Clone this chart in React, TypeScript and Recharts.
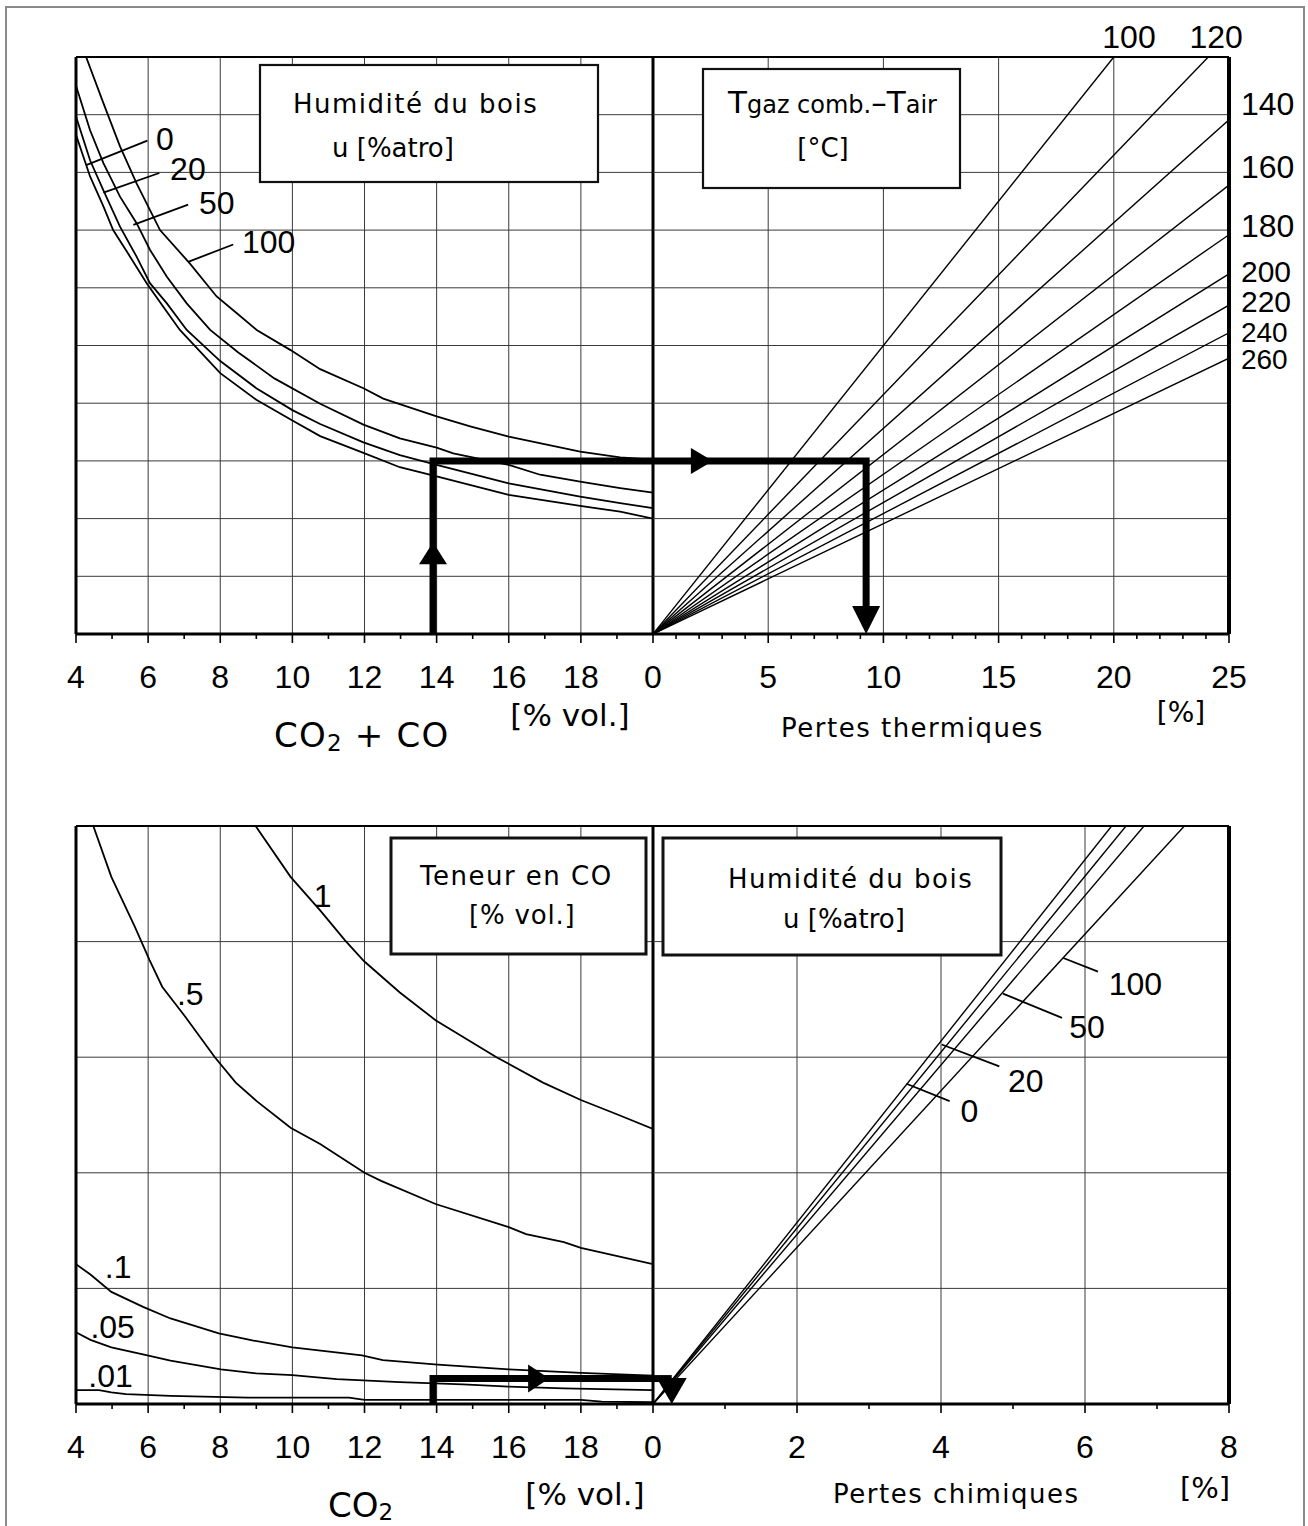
import React from 'react';
import { LineChart, Line, XAxis, YAxis, ReferenceLine, ReferenceDot } from 'recharts';

type P = [number, number];

// ================= TOP PANEL : pertes thermiques =================
// Left half: CO2 + CO [% vol.] -> factor (grid units 0..10), one curve per wood humidity u [%atro]
const humidityLabels = ['0', '20', '50', '100'];
const thermU0: P[] = [
  [4.0, 8.65], [4.39, 7.93], [4.76, 7.41], [5.03, 7.0], [5.5, 6.54], [5.96, 6.08], [6.42, 5.67],
  [6.88, 5.27], [8.0, 4.52], [9.0, 4.06], [10.0, 3.7], [10.77, 3.43], [11.97, 3.14], [12.98, 2.89],
  [14.0, 2.73], [16.0, 2.41], [17.98, 2.22], [19.09, 2.12], [20.0, 2.0],
];
const thermU20: P[] = [
  [4.0, 8.97], [4.39, 8.21], [4.76, 7.69], [5.22, 7.06], [5.68, 6.54], [6.05, 6.08], [6.52, 5.73],
  [7.07, 5.27], [8.0, 4.73], [9.0, 4.26], [10.0, 3.88], [10.77, 3.64], [11.97, 3.32], [12.98, 3.1],
  [14.0, 2.93], [16.0, 2.61], [17.98, 2.38], [19.09, 2.27], [20.0, 2.18],
];
const thermU50: P[] = [
  [4.0, 9.5], [4.39, 8.73], [4.76, 8.16], [5.22, 7.58], [5.68, 7.12], [6.05, 6.66], [6.52, 6.19],
  [7.07, 5.73], [7.72, 5.27], [8.5, 4.88], [9.5, 4.43], [10.77, 3.99], [11.97, 3.63], [12.98, 3.39],
  [14.0, 3.23], [14.46, 3.13], [16.0, 2.93], [16.87, 2.76], [17.98, 2.64], [19.09, 2.53], [20.0, 2.45],
];
const thermU100: P[] = [
  [4.28, 10.0], [4.76, 9.2], [5.22, 8.45], [5.68, 7.81], [6.33, 7.0], [7.16, 6.42], [7.9, 5.85],
  [8.46, 5.56], [9.01, 5.27], [9.95, 4.92], [10.77, 4.59], [11.97, 4.26], [12.52, 4.08], [14.0, 3.77],
  [14.93, 3.6], [16.0, 3.42], [17.98, 3.16], [19.09, 3.06], [20.0, 3.02],
];
const thermCurves = [thermU0, thermU20, thermU50, thermU100];

// Right half: rays per T gaz comb. - T air [°C]; end points (pertes thermiques %, factor)
const tempLabels = ['100', '120', '140', '160', '180', '200', '220', '240', '260'];
const tempRayEnds: P[] = [
  [20.0, 10], [24.1, 10], [25, 8.91], [25, 7.78], [25, 6.92], [25, 6.24], [25, 5.7], [25, 5.22], [25, 4.78],
];

// Reading example (arrow path)
const thermExampleLeft: P[] = [[13.9, 0], [13.9, 3.0], [20, 3.0]];
const thermExampleRight: P[] = [[0, 3.0], [9.25, 3.0], [9.25, 0.45]];

// ================= BOTTOM PANEL : pertes chimiques =================
const coLabels = ['1', '.5', '.1', '.05', '.01'];
const co1: P[] = [
  [8.98, 5.0], [9.95, 4.56], [10.77, 4.27], [11.46, 4.01], [11.99, 3.83], [12.98, 3.56], [13.97, 3.32],
  [15.66, 3.0], [16.95, 2.78], [18.0, 2.63], [19.05, 2.5], [20.0, 2.38],
];
const co05: P[] = [
  [4.48, 5.0], [4.98, 4.56], [5.63, 4.13], [6.04, 3.84], [6.39, 3.61], [7.03, 3.35], [7.85, 3.0],
  [8.43, 2.78], [9.01, 2.62], [9.95, 2.39], [10.77, 2.25], [12.0, 2.0], [12.46, 1.93], [13.97, 1.73],
  [16.0, 1.53], [16.48, 1.47], [17.53, 1.4], [18.0, 1.35], [20.0, 1.21],
];
const co01: P[] = [
  [4.0, 1.21], [4.4, 1.12], [4.98, 0.97], [5.86, 0.84], [6.62, 0.74], [7.96, 0.61], [8.89, 0.55],
  [10.0, 0.49], [11.93, 0.42], [12.51, 0.38], [14.03, 0.34], [16.0, 0.3], [18.0, 0.27], [20.0, 0.245],
];
const co005: P[] = [
  [4.0, 0.62], [4.4, 0.555], [4.98, 0.49], [5.98, 0.42], [6.62, 0.375], [8.02, 0.3], [9.0, 0.265],
  [10.0, 0.25], [11.23, 0.215], [12.98, 0.19], [14.73, 0.17], [16.0, 0.15], [17.53, 0.135], [20.0, 0.12],
];
const co001: P[] = [
  [4.0, 0.12], [4.64, 0.12], [4.98, 0.1], [5.39, 0.085], [6.62, 0.07], [8.77, 0.055], [11.57, 0.055],
  [12.0, 0.035], [18.0, 0.035], [18.58, 0.02], [20.0, 0.015],
];
const coCurves = [co1, co05, co01, co005, co001];

// Right half: rays per wood humidity; end points (pertes chimiques %, factor)
const chemRayEnds: P[] = [[6.37, 5], [6.57, 5], [6.82, 5], [7.38, 5]];

const chemExampleLeft: P[] = [[13.9, 0], [13.9, 0.22], [20, 0.22]];
const chemExampleRight: P[] = [[0, 0.22], [0.26, 0.22]];

// ================= Axes ticks =================
const co2MajorTicks = [4, 6, 8, 10, 12, 14, 16, 18];
const co2AllTicks = [4, 5, 6, 7, 8, 9, 10, 11, 12, 13, 14, 15, 16, 17, 18, 19];
const thermMajorTicks = [0, 5, 10, 15, 20, 25];
const thermAllTicks = [0, 1, 2, 3, 4, 5, 6, 7, 8, 9, 10, 11, 12, 13, 14, 15, 16, 17, 18, 19, 20, 21, 22, 23, 24, 25];
const chemMajorTicks = [0, 2, 4, 6, 8];
const chemAllTicks = [0, 1, 2, 3, 4, 5, 6, 7, 8];

// ================= Annotation anchors (data coordinates) =================
const thermHumLabelPos: P[] = [[6.22, 8.39], [6.61, 7.86], [7.41, 7.28], [8.6, 6.6]];
const thermHumLeaders: [P, P][] = [
  [[4.3, 8.13], [5.98, 8.55]],
  [[4.76, 7.65], [6.31, 7.99]],
  [[5.59, 7.09], [7.11, 7.44]],
  [[7.11, 6.45], [8.36, 6.75]],
];
const tempLabelPos: P[] = [
  [20.66, 10.16], [24.44, 10.16], [25.52, 8.99], [25.52, 7.9], [25.52, 6.88], [25.52, 6.1], [25.52, 5.58], [25.52, 5.06], [25.52, 4.6],
];
const coLabelPos: P[] = [[10.59, 4.3], [6.8, 3.45], [4.8, 1.09], [4.4, 0.57], [4.34, 0.147]];
const chemHumLabelPos: P[] = [[4.27, 2.44], [4.93, 2.7], [5.78, 3.17], [6.33, 3.54]];
const chemHumLeaders: [P, P][] = [
  [[3.52, 2.77], [4.12, 2.62]],
  [[4.01, 3.11], [4.81, 2.92]],
  [[4.86, 3.55], [5.68, 3.34]],
  [[5.69, 3.86], [6.18, 3.74]],
];

const NUM = "'Liberation Sans', Arial, sans-serif";
const TXT = "'DejaVu Sans', Verdana, sans-serif";
const GRID = '#3a3a3a';

const toXY = (pts: P[]) => pts.map(([x, y]) => ({ x, y }));

function makeTick(majors: number[]) {
  return (props: any) => {
    const { x, y, payload } = props;
    const v = payload.value;
    const isMajor = majors.includes(v);
    return (
      <g>
        <line x1={x} x2={x} y1={y} y2={y + (isMajor ? 9 : 5)} stroke="#000" strokeWidth={1.6} />
        {isMajor && (
          <text x={x} y={y + 54} textAnchor="middle" fontFamily={NUM} fontSize={32} fill="#000">
            {v}
          </text>
        )}
      </g>
    );
  };
}

const textShape = (label: string, anchor: 'start' | 'middle' = 'start', size = 32) => (p: any) => (
  <text x={p.cx} y={p.cy} textAnchor={anchor} fontFamily={NUM} fontSize={size} fill="#000">
    {label}
  </text>
);

const tri = (dir: 'up' | 'down' | 'right', len: number, half: number) => (p: any) => {
  const { cx, cy } = p;
  let pts = '';
  if (dir === 'up') pts = `${cx},${cy} ${cx - half},${cy + len} ${cx + half},${cy + len}`;
  if (dir === 'down') pts = `${cx},${cy} ${cx - half},${cy - len} ${cx + half},${cy - len}`;
  if (dir === 'right') pts = `${cx},${cy} ${cx - len},${cy - half} ${cx - len},${cy + half}`;
  return <polygon points={pts} fill="#000" />;
};

const lineProps = { type: 'linear' as const, dataKey: 'y', dot: false, activeDot: false, isAnimationActive: false, legendType: 'none' as const };

function gridX(values: number[], prefix: string) {
  return values.map((v) => <ReferenceLine key={prefix + 'gx' + v} x={v} stroke={GRID} strokeWidth={1} />);
}
function gridY(values: number[], prefix: string) {
  return values.map((v) => <ReferenceLine key={prefix + 'gy' + v} y={v} stroke={GRID} strokeWidth={1} />);
}

const W_L = 700;
const W_R = 708;
const H_T = 760;
const H_B = 756;
const AX_H = 40;
const marginTL = { top: 57, left: 76, right: 47, bottom: H_T - 634 - AX_H };
const marginTR = { top: 57, left: 53, right: 79, bottom: H_T - 634 - AX_H };
const marginBL = { top: 56, left: 76, right: 47, bottom: H_B - 634 - AX_H };
const marginBR = { top: 56, left: 53, right: 79, bottom: H_B - 634 - AX_H };

function TopLeft() {
  return (
    <LineChart width={W_L} height={H_T} margin={marginTL}>
      <XAxis dataKey="x" type="number" domain={[4, 20]} allowDataOverflow ticks={co2AllTicks} interval={0}
        tick={makeTick(co2MajorTicks)} tickLine={false} axisLine={false} tickSize={0} tickMargin={0} height={AX_H} />
      <YAxis type="number" domain={[0, 10]} allowDataOverflow hide width={0} />
      {gridX([6, 8, 10, 12, 14, 16, 18], 'tl')}
      {gridY([1, 2, 3, 4, 5, 6, 7, 8, 9], 'tl')}
      <ReferenceLine y={10} stroke="#000" strokeWidth={2} />
      <ReferenceLine y={0} stroke="#000" strokeWidth={3} />
      <ReferenceLine x={4} stroke="#000" strokeWidth={3} />
      <ReferenceLine x={20} stroke="#000" strokeWidth={3} />
      {thermCurves.map((c, i) => (
        <Line key={'tc' + i} {...lineProps} data={toXY(c)} stroke="#000" strokeWidth={1.8} name={humidityLabels[i]} />
      ))}
      {thermHumLeaders.map((l, i) => (
        <Line key={'tld' + i} {...lineProps} data={toXY(l)} stroke="#000" strokeWidth={1.8} />
      ))}
      <Line {...lineProps} data={toXY(thermExampleLeft)} stroke="#000" strokeWidth={7} strokeLinejoin="miter" strokeLinecap="butt" />
      {thermHumLabelPos.map((p, i) => (
        <ReferenceDot key={'tlab' + i} x={p[0]} y={p[1]} r={0} ifOverflow="visible" shape={textShape(humidityLabels[i])} />
      ))}
      <ReferenceDot x={13.9} y={1.59} r={0} ifOverflow="visible" shape={tri('up', 22, 14)} />
    </LineChart>
  );
}

function TopRight() {
  return (
    <LineChart width={W_R} height={H_T} margin={marginTR}>
      <XAxis dataKey="x" type="number" domain={[0, 25]} allowDataOverflow ticks={thermAllTicks} interval={0}
        tick={makeTick(thermMajorTicks)} tickLine={false} axisLine={false} tickSize={0} tickMargin={0} height={AX_H} />
      <YAxis type="number" domain={[0, 10]} allowDataOverflow hide width={0} />
      {gridX([5, 10, 15, 20], 'tr')}
      {gridY([1, 2, 3, 4, 5, 6, 7, 8, 9], 'tr')}
      <ReferenceLine y={10} stroke="#000" strokeWidth={2} />
      <ReferenceLine y={0} stroke="#000" strokeWidth={3} />
      <ReferenceLine x={25} stroke="#000" strokeWidth={4} />
      {tempRayEnds.map((e, i) => (
        <Line key={'tr' + i} {...lineProps} data={toXY([[0, 0], e])} stroke="#000" strokeWidth={1.4} name={tempLabels[i]} />
      ))}
      <Line {...lineProps} data={toXY(thermExampleRight)} stroke="#000" strokeWidth={7} strokeLinejoin="miter" strokeLinecap="butt" />
      {tempLabelPos.map((p, i) => (
        <ReferenceDot key={'trl' + i} x={p[0]} y={p[1]} r={0} ifOverflow="visible"
          shape={textShape(tempLabels[i], i < 2 ? 'middle' : 'start', i >= 7 ? 28 : i >= 5 ? 30 : 32)} />
      ))}
      <ReferenceDot x={2.6} y={3.0} r={0} ifOverflow="visible" shape={tri('right', 22, 13)} />
      <ReferenceDot x={9.25} y={0} r={0} ifOverflow="visible" shape={tri('down', 28, 14)} />
    </LineChart>
  );
}

function BottomLeft() {
  return (
    <LineChart width={W_L} height={H_B} margin={marginBL}>
      <XAxis dataKey="x" type="number" domain={[4, 20]} allowDataOverflow ticks={co2AllTicks} interval={0}
        tick={makeTick(co2MajorTicks)} tickLine={false} axisLine={false} tickSize={0} tickMargin={0} height={AX_H} />
      <YAxis type="number" domain={[0, 5]} allowDataOverflow hide width={0} />
      {gridX([6, 8, 10, 12, 14, 16, 18], 'bl')}
      {gridY([1, 2, 3, 4], 'bl')}
      <ReferenceLine y={5} stroke="#000" strokeWidth={2} />
      <ReferenceLine y={0} stroke="#000" strokeWidth={3} />
      <ReferenceLine x={4} stroke="#000" strokeWidth={3} />
      <ReferenceLine x={20} stroke="#000" strokeWidth={3} />
      {coCurves.map((c, i) => (
        <Line key={'bc' + i} {...lineProps} data={toXY(c)} stroke="#000" strokeWidth={1.8} name={coLabels[i]} />
      ))}
      <Line {...lineProps} data={toXY(chemExampleLeft)} stroke="#000" strokeWidth={7} strokeLinejoin="miter" strokeLinecap="butt" />
      {coLabelPos.map((p, i) => (
        <ReferenceDot key={'blab' + i} x={p[0]} y={p[1]} r={0} ifOverflow="visible" shape={textShape(coLabels[i])} />
      ))}
      <ReferenceDot x={17.12} y={0.22} r={0} ifOverflow="visible" shape={tri('right', 21, 14)} />
    </LineChart>
  );
}

function BottomRight() {
  return (
    <LineChart width={W_R} height={H_B} margin={marginBR}>
      <XAxis dataKey="x" type="number" domain={[0, 8]} allowDataOverflow ticks={chemAllTicks} interval={0}
        tick={makeTick(chemMajorTicks)} tickLine={false} axisLine={false} tickSize={0} tickMargin={0} height={AX_H} />
      <YAxis type="number" domain={[0, 5]} allowDataOverflow hide width={0} />
      {gridX([2, 4, 6], 'br')}
      {gridY([1, 2, 3, 4], 'br')}
      <ReferenceLine y={5} stroke="#000" strokeWidth={2} />
      <ReferenceLine y={0} stroke="#000" strokeWidth={3} />
      <ReferenceLine x={8} stroke="#000" strokeWidth={4} />
      {chemRayEnds.map((e, i) => (
        <Line key={'brr' + i} {...lineProps} data={toXY([[0, 0], e])} stroke="#000" strokeWidth={1.4} name={humidityLabels[i]} />
      ))}
      {chemHumLeaders.map((l, i) => (
        <Line key={'brl' + i} {...lineProps} data={toXY(l)} stroke="#000" strokeWidth={1.8} />
      ))}
      <Line {...lineProps} data={toXY(chemExampleRight)} stroke="#000" strokeWidth={7} strokeLinejoin="miter" strokeLinecap="butt" />
      {chemHumLabelPos.map((p, i) => (
        <ReferenceDot key={'brlab' + i} x={p[0]} y={p[1]} r={0} ifOverflow="visible" shape={textShape(humidityLabels[i])} />
      ))}
      <ReferenceDot x={0.26} y={0} r={0} ifOverflow="visible" shape={tri('down', 26, 15)} />
    </LineChart>
  );
}

function Overlay() {
  return (
    <svg width={1308} height={1526} style={{ position: 'absolute', left: 0, top: 0, pointerEvents: 'none' }}>
      <rect x={6} y={7} width={1298} height={1540} fill="none" stroke="#8a8a8a" strokeWidth={2} />

      {/* top-left box */}
      <rect x={260} y={65} width={338} height={117} fill="#fff" stroke="#111" strokeWidth={2.2} />
      <text x={293} y={113} fontFamily={TXT} fontSize={26} letterSpacing={1.5} fill="#000">Humidité du bois</text>
      <text x={332} y={157} fontFamily={TXT} fontSize={26} fill="#000">u [%atro]</text>

      {/* top-right box */}
      <rect x={703} y={69} width={257} height={119} fill="#fff" stroke="#111" strokeWidth={2.2} />
      <text x={728} y={113} fontFamily={TXT} fill="#000">
        <tspan fontSize={31}>T</tspan>
        <tspan fontSize={24}>gaz comb.</tspan>
        <tspan fontSize={31}>–T</tspan>
        <tspan fontSize={24}>air</tspan>
      </text>
      <text x={823} y={157} textAnchor="middle" fontFamily={TXT} fontSize={26} fill="#000">[°C]</text>

      {/* bottom-left box */}
      <rect x={391} y={838} width={255} height={116} fill="#fff" stroke="#111" strokeWidth={3} />
      <text x={420} y={885} fontFamily={TXT} fontSize={26} letterSpacing={1.5} fill="#000">Teneur en CO</text>
      <text x={469} y={924} fontFamily={TXT} fontSize={26} letterSpacing={0.8} fill="#000">[% vol.]</text>

      {/* bottom-right box */}
      <rect x={663} y={838} width={338} height={117} fill="#fff" stroke="#111" strokeWidth={3} />
      <text x={728} y={888} fontFamily={TXT} fontSize={26} letterSpacing={1.5} fill="#000">Humidité du bois</text>
      <text x={783} y={928} fontFamily={TXT} fontSize={26} fill="#000">u [%atro]</text>

      {/* axis titles top */}
      <text x={570} y={726} textAnchor="middle" fontFamily={TXT} fontSize={31} fill="#000">[% vol.]</text>
      <text x={274} y={747} fontFamily={TXT} fontSize={34} letterSpacing={1.2} fill="#000">
        CO<tspan fontSize={23} dy={4}>2</tspan><tspan dy={-4}> + CO</tspan>
      </text>
      <text x={781} y={737} fontFamily={TXT} fontSize={26} letterSpacing={1.5} fill="#000">Pertes thermiques</text>
      <text x={1181} y={722} textAnchor="middle" fontFamily={TXT} fontSize={28} fill="#000">[%]</text>

      {/* axis titles bottom */}
      <text x={585} y={1505} textAnchor="middle" fontFamily={TXT} fontSize={31} fill="#000">[% vol.]</text>
      <text x={328} y={1517} fontFamily={TXT} fontSize={34} fill="#000">
        CO<tspan fontSize={23} dy={3}>2</tspan>
      </text>
      <text x={833} y={1503} fontFamily={TXT} fontSize={26} letterSpacing={1.5} fill="#000">Pertes chimiques</text>
      <text x={1205} y={1498} textAnchor="middle" fontFamily={TXT} fontSize={29} fill="#000">[%]</text>
    </svg>
  );
}

export default function App() {
  return (
    <div style={{ position: 'absolute', left: 0, top: 0, width: 1308, height: 1526, background: '#fff', overflow: 'hidden' }}>
      <div style={{ position: 'absolute', left: 0, top: 0 }}><TopLeft /></div>
      <div style={{ position: 'absolute', left: 600, top: 0 }}><TopRight /></div>
      <div style={{ position: 'absolute', left: 0, top: 770 }}><BottomLeft /></div>
      <div style={{ position: 'absolute', left: 600, top: 770 }}><BottomRight /></div>
      <Overlay />
    </div>
  );
}
